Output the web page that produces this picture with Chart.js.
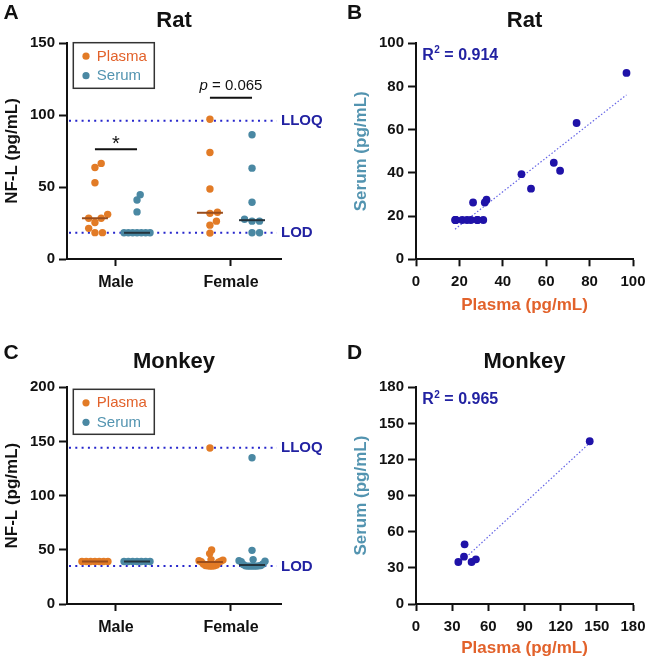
<!DOCTYPE html>
<html>
<head>
<meta charset="utf-8">
<script src="https://cdn.jsdelivr.net/npm/chart.js@4.4.1/dist/chart.umd.min.js"></script>
<style>
  body { margin: 0; background: #fff; width: 648px; height: 663px; position: relative; overflow: hidden; }
  canvas { position: absolute; }
</style>
</head>
<body>
<canvas id="panelA" width="330" height="320" style="left:0;top:0"></canvas>
<canvas id="panelB" width="318" height="320" style="left:330px;top:0"></canvas>
<canvas id="panelC" width="330" height="343" style="left:0;top:320px"></canvas>
<canvas id="panelD" width="318" height="343" style="left:330px;top:320px"></canvas>
<script>
// NF-L in plasma vs serum, rat and monkey

const groups = ["Male", "Female"];
const seriesNames = ["Plasma", "Serum"];

// rat values, paired per animal (plasma[i] goes with serum[i])
const ratMalePlasma = [66.4, 63.5, 53.0, 31.0, 28.3, 28.3, 25.3, 21.3, 18.3, 18.3];
const ratMaleSerum = [41.0, 44.7, 32.7, 18.2, 18.2, 18.2, 18.2, 18.2, 18.2, 18.2];
const ratFemalePlasma = [97.0, 74.0, 48.6, 32.5, 31.7, 26.3, 23.5, 18.0];
const ratFemaleSerum = [86.3, 63.1, 39.4, 27.6, 26.3, 26.3, 18.2, 18.2];
const ratLimitNames = ["LLOQ", "LOD"];
const ratLimitValues = [96, 18.2];
const ratR2 = "0.914";

// monkey values
const monkeyMalePlasma = [39.2, 39.2, 39.2, 39.2, 39.2, 39.2, 39.2];
const monkeyMaleSerum = [39.2, 39.2, 39.2, 39.2, 39.2, 39.2, 39.2];
const monkeyFemalePlasma = [144.0, 49.8, 46.5, 41.0, 40.5, 40.0, 39.5, 39.0, 38.5, 37.0, 36.0, 35.5, 35.2, 35.2, 35.0, 35.0];
const monkeyFemaleSerum = [135.0, 49.5, 41.0, 40.0, 39.5, 39.0, 37.0, 36.5, 35.5, 35.2, 35.2, 35.0, 35.0, 35.0, 35.0, 35.0];
const monkeyLimitNames = ["LLOQ", "LOD"];
const monkeyLimitValues = [144.3, 35];
// animals with both samples (panel D)
const monkeyPairPlasma = [35.1, 39.8, 40.3, 46.1, 49.7, 144.1];
const monkeyPairSerum = [34.9, 39.3, 49.6, 34.9, 37.1, 135.2];
const monkeyR2 = "0.965";

const FONT = "'Liberation Sans', Arial, sans-serif";
const INK = "#111";
const PLASMA = "#e27b26";
const SERUM = "#4a88a3";
const PLASMA_TXT = "#e2622b";
const SERUM_TXT = "#5394b0";
const PLASMA_MED = "#9a4d1c";
const SERUM_MED = "#25343d";
const LIMIT_LINE = "#2626cc";
const LIMIT_TXT = "#2222a2";
const DOT_BLUE = "#1f12a8";
const OFF = 0.183;      // plasma / serum column offset from group centre
const MED_HALF = 0.113; // half width of the median bar

function median(arr) {
  const s = [...arr].sort((a, b) => a - b);
  const m = Math.floor(s.length / 2);
  return s.length % 2 ? s[m] : (s[m - 1] + s[m]) / 2;
}

function linFit(xs, ys) {
  const n = xs.length;
  const mx = xs.reduce((a, b) => a + b, 0) / n;
  const my = ys.reduce((a, b) => a + b, 0) / n;
  let sxy = 0, sxx = 0;
  xs.forEach((x, i) => { sxy += (x - mx) * (ys[i] - my); sxx += (x - mx) * (x - mx); });
  const slope = sxy / sxx;
  const lo = Math.min(...xs), hi = Math.max(...xs);
  return [{ x: lo, y: my + slope * (lo - mx) }, { x: hi, y: my + slope * (hi - mx) }];
}

// simple beeswarm, offsets in pixels
function swarm(values, pxY, diam, maxHalf) {
  const order = values.map((v, i) => i).sort((a, b) => values[a] - values[b]);
  const placed = [];
  const offs = new Array(values.length).fill(0);
  order.forEach(i => {
    const py = values[i] * pxY;
    let dx = 0;
    for (let k = 0; k < 600; k++) {
      const tries = k === 0 ? [0] : [k * 0.25, -k * 0.25];
      const ok = tries.find(t => placed.every(p => (p.x - t) ** 2 + (p.y - py) ** 2 >= diam * diam));
      if (ok !== undefined) { dx = ok; break; }
    }
    placed.push({ x: dx, y: py });
    offs[i] = dx;
  });
  const widest = Math.max(...offs.map(Math.abs));
  const s = widest > maxHalf ? maxHalf / widest : 1;
  return offs.map(o => o * s);
}

function applySwarm(chart) {
  const xs = chart.scales.x, ys = chart.scales.y;
  const pxX = xs.getPixelForValue(1) - xs.getPixelForValue(0);
  const pxY = ys.getPixelForValue(0) - ys.getPixelForValue(1);
  chart.data.datasets.forEach(ds => {
    if (ds.center === undefined) return;
    const offs = swarm(ds.values, pxY, 7.5, 13);
    ds.data = ds.values.map((v, i) => ({ x: ds.center + offs[i] / pxX, y: v }));
  });
  chart.update("none");
}

const decor = {
  id: "decor",
  beforeDatasetsDraw(chart, args, o) {
    const { ctx, chartArea: a, scales: { y } } = chart;
    (o.limits || []).forEach(l => {
      const py = y.getPixelForValue(l.value);
      ctx.save();
      ctx.strokeStyle = LIMIT_LINE;
      ctx.lineWidth = 2;
      ctx.setLineDash([2, 4.3]);
      ctx.beginPath();
      ctx.moveTo(a.left + 2, py);
      ctx.lineTo(a.right - 4, py);
      ctx.stroke();
      ctx.setLineDash([]);
      ctx.fillStyle = LIMIT_TXT;
      ctx.font = "bold 15px " + FONT;
      ctx.textBaseline = "middle";
      ctx.textAlign = "left";
      ctx.fillText(l.name, a.right, py + 0.5);
      ctx.restore();
    });
  },
  afterDraw(chart, args, o) {
    const { ctx, chartArea: a, scales: { x, y } } = chart;
    ctx.save();
    ctx.textBaseline = "middle";
    // panel letter
    ctx.fillStyle = INK;
    ctx.font = "bold 21px " + FONT;
    ctx.textAlign = "left";
    ctx.fillText(o.letter.text, o.letter.x, o.letter.y);
    // title
    ctx.font = "bold 22px " + FONT;
    ctx.textAlign = "center";
    ctx.fillText(o.title.text, (a.left + a.right) / 2, o.title.y);
    // y title
    ctx.save();
    ctx.translate(o.yTitle.x, (a.top + a.bottom) / 2);
    ctx.rotate(-Math.PI / 2);
    ctx.fillStyle = o.yTitle.color;
    ctx.font = "bold 17px " + FONT;
    ctx.fillText(o.yTitle.text, 0, 0);
    ctx.restore();
    // x title
    if (o.xTitle) {
      ctx.fillStyle = o.xTitle.color;
      ctx.font = "bold 17px " + FONT;
      ctx.fillText(o.xTitle.text, (a.left + a.right) / 2, o.xTitle.y);
    }
    // legend box
    if (o.legend) {
      const L = o.legend;
      ctx.lineWidth = 1.5;
      ctx.strokeStyle = "#333";
      ctx.strokeRect(L.x, L.y, L.w, L.h);
      ctx.textAlign = "left";
      ctx.font = "15px " + FONT;
      seriesNames.forEach((name, i) => {
        const cy = L.y + 13.5 + i * 19.5;
        ctx.fillStyle = i ? SERUM : PLASMA;
        ctx.beginPath();
        ctx.arc(L.x + 12.7, cy, 3.6, 0, Math.PI * 2);
        ctx.fill();
        ctx.fillStyle = i ? SERUM_TXT : PLASMA_TXT;
        ctx.fillText(name, L.x + 23.5, cy + 0.5);
      });
    }
    // significance bars
    (o.sig || []).forEach(s => {
      const x0 = x.getPixelForValue(s.group - OFF), x1 = x.getPixelForValue(s.group + OFF);
      const py = y.getPixelForValue(s.value);
      ctx.strokeStyle = INK;
      ctx.lineWidth = 2;
      ctx.beginPath();
      ctx.moveTo(x0, py);
      ctx.lineTo(x1, py);
      ctx.stroke();
      ctx.fillStyle = INK;
      const cx = (x0 + x1) / 2;
      if (s.star) {
        ctx.font = "20px " + FONT;
        ctx.textAlign = "center";
        ctx.textBaseline = "alphabetic";
        ctx.fillText(s.star, cx, py + 0.5);
        ctx.textBaseline = "middle";
      } else {
        ctx.textAlign = "left";
        ctx.font = "italic 15px " + FONT;
        const w1 = ctx.measureText(s.italic).width;
        ctx.font = "15px " + FONT;
        const w2 = ctx.measureText(s.rest).width;
        const sx = cx - (w1 + w2) / 2;
        ctx.font = "italic 15px " + FONT;
        ctx.fillText(s.italic, sx, py - 11.7);
        ctx.font = "15px " + FONT;
        ctx.fillText(s.rest, sx + w1, py - 11.7);
      }
    });
    // R squared
    if (o.r2) {
      ctx.fillStyle = LIMIT_TXT;
      ctx.textAlign = "left";
      ctx.font = "bold 16px " + FONT;
      let px = o.r2.x;
      ctx.fillText("R", px, o.r2.y);
      px += ctx.measureText("R").width + 0.5;
      ctx.font = "bold 10px " + FONT;
      ctx.fillText("2", px, o.r2.y - 5);
      px += ctx.measureText("2").width;
      ctx.font = "bold 16px " + FONT;
      ctx.fillText(" = " + o.r2.text, px, o.r2.y);
    }
    ctx.restore();
  }
};

function axisStyle(tickLen) {
  return {
    grid: { drawOnChartArea: false, tickLength: tickLen, tickWidth: 2, tickColor: INK },
    border: { width: 2, color: INK }
  };
}

function tickFont(size) {
  return { family: FONT, size: size, weight: "bold" };
}

// fixed x-axis band height, no extra side padding from the end labels
function fixXBand(height) {
  return s => { s.height = height; s.paddingLeft = 0; s.paddingRight = 0; };
}

function medianLine(vals, center, color) {
  const m = median(vals);
  return {
    data: [{ x: center - MED_HALF, y: m }, { x: center + MED_HALF, y: m }],
    showLine: true, borderColor: color, borderWidth: 2, pointRadius: 0, order: -1
  };
}

function pointSet(vals, center, color) {
  return {
    values: vals, center: center,
    data: vals.map(v => ({ x: center, y: v })),
    backgroundColor: color, borderWidth: 0, pointRadius: 3.7, pointHoverRadius: 3.7, order: 1
  };
}

function dotPlot(id, male, female, yMax, yStep, limitNames, limitValues, opts) {
  const [mp, ms] = male, [fp, fs] = female;
  const canvasH = document.getElementById(id).height;
  const chart = new Chart(document.getElementById(id), {
    type: "scatter",
    data: {
      datasets: [
        medianLine(mp, 0 - OFF, PLASMA_MED),
        medianLine(ms, 0 + OFF, SERUM_MED),
        medianLine(fp, 1 - OFF, PLASMA_MED),
        medianLine(fs, 1 + OFF, SERUM_MED),
        pointSet(mp, 0 - OFF, PLASMA),
        pointSet(fp, 1 - OFF, PLASMA),
        pointSet(ms, 0 + OFF, SERUM),
        pointSet(fs, 1 + OFF, SERUM)
      ]
    },
    options: {
      responsive: false,
      animation: false,
      devicePixelRatio: 1,
      layout: { autoPadding: false, padding: { top: opts.top, right: 49, left: 0, bottom: 0 } },
      plugins: {
        legend: { display: false },
        tooltip: { enabled: false },
        decor: Object.assign({
          limits: limitNames.map((n, i) => ({ name: n, value: limitValues[i] }))
        }, opts.decor)
      },
      scales: {
        x: Object.assign({
          type: "linear", min: -0.426, max: 1.435,
          afterBuildTicks: s => { s.ticks = groups.map((g, i) => ({ value: i })); },
          ticks: { callback: v => groups[v], font: tickFont(16), color: INK, padding: 7, maxRotation: 0, autoSkip: false },
          afterFit: fixXBand(canvasH - opts.bottom)
        }, axisStyle(7)),
        y: Object.assign({
          min: 0, max: yMax,
          ticks: { stepSize: yStep, font: tickFont(15), color: INK, padding: 4 },
          afterFit: s => { s.width = 67; }
        }, axisStyle(8))
      }
    },
    plugins: [decor]
  });
  applySwarm(chart);
  return chart;
}

function corrPlot(id, xs, ys, max, step, opts) {
  const canvasH = document.getElementById(id).height;
  return new Chart(document.getElementById(id), {
    type: "scatter",
    data: {
      datasets: [
        {
          data: xs.map((v, i) => ({ x: v, y: ys[i] })),
          backgroundColor: DOT_BLUE, borderWidth: 0, pointRadius: 3.9, pointHoverRadius: 3.9, order: 0
        },
        {
          data: linFit(xs, ys), showLine: true, borderColor: "#6565e6", borderWidth: 1.2,
          borderDash: [1.5, 2], pointRadius: 0, order: 1
        }
      ]
    },
    options: {
      responsive: false,
      animation: false,
      devicePixelRatio: 1,
      layout: { autoPadding: false, padding: { top: opts.top, right: 15, left: 0, bottom: 0 } },
      plugins: { legend: { display: false }, tooltip: { enabled: false }, decor: opts.decor },
      scales: {
        x: Object.assign({
          type: "linear", min: 0, max: max,
          ticks: { stepSize: step, font: tickFont(15), color: INK, padding: 7, maxRotation: 0 },
          afterFit: fixXBand(canvasH - opts.bottom)
        }, axisStyle(7)),
        y: Object.assign({
          min: 0, max: max,
          ticks: { stepSize: step, font: tickFont(15), color: INK, padding: 4 },
          afterFit: s => { s.width = 86; }
        }, axisStyle(8))
      }
    },
    plugins: [decor]
  });
}

// A: rat, plasma vs serum by sex
dotPlot("panelA", [ratMalePlasma, ratMaleSerum], [ratFemalePlasma, ratFemaleSerum], 150, 50,
  ratLimitNames, ratLimitValues, {
    top: 43, bottom: 259,
    decor: {
      letter: { text: "A", x: 3.5, y: 13 },
      title: { text: "Rat", y: 20.5 },
      yTitle: { text: "NF-L (pg/mL)", x: 12.5, color: INK },
      legend: { x: 73.3, y: 42.7, w: 81, h: 45.6 },
      sig: [
        { group: 0, value: 76.2, star: "*" },
        { group: 1, value: 112, italic: "p", rest: " = 0.065" }
      ]
    }
  });

// B: rat correlation
corrPlot("panelB", ratMalePlasma.concat(ratFemalePlasma), ratMaleSerum.concat(ratFemaleSerum), 100, 20, {
  top: 43.3, bottom: 259.3,
  decor: {
    letter: { text: "B", x: 17, y: 13 },
    title: { text: "Rat", y: 20.5 },
    yTitle: { text: "Serum (pg/mL)", x: 31.7, color: SERUM_TXT },
    xTitle: { text: "Plasma (pg/mL)", y: 305, color: PLASMA_TXT },
    r2: { text: ratR2, x: 92.3, y: 55.5 }
  }
});

// C: monkey, plasma vs serum by sex
dotPlot("panelC", [monkeyMalePlasma, monkeyMaleSerum], [monkeyFemalePlasma, monkeyFemaleSerum], 200, 50,
  monkeyLimitNames, monkeyLimitValues, {
    top: 67.3, bottom: 284,
    decor: {
      letter: { text: "C", x: 3.5, y: 33 },
      title: { text: "Monkey", y: 42 },
      yTitle: { text: "NF-L (pg/mL)", x: 12.5, color: INK },
      legend: { x: 73.3, y: 69.3, w: 81, h: 45 }
    }
  });

// D: monkey correlation
corrPlot("panelD", monkeyPairPlasma, monkeyPairSerum, 180, 30, {
  top: 67.3, bottom: 284,
  decor: {
    letter: { text: "D", x: 17, y: 33 },
    title: { text: "Monkey", y: 42 },
    yTitle: { text: "Serum (pg/mL)", x: 31.7, color: SERUM_TXT },
    xTitle: { text: "Plasma (pg/mL)", y: 328.5, color: PLASMA_TXT },
    r2: { text: monkeyR2, x: 92.3, y: 80 }
  }
});
</script>
</body>
</html>
